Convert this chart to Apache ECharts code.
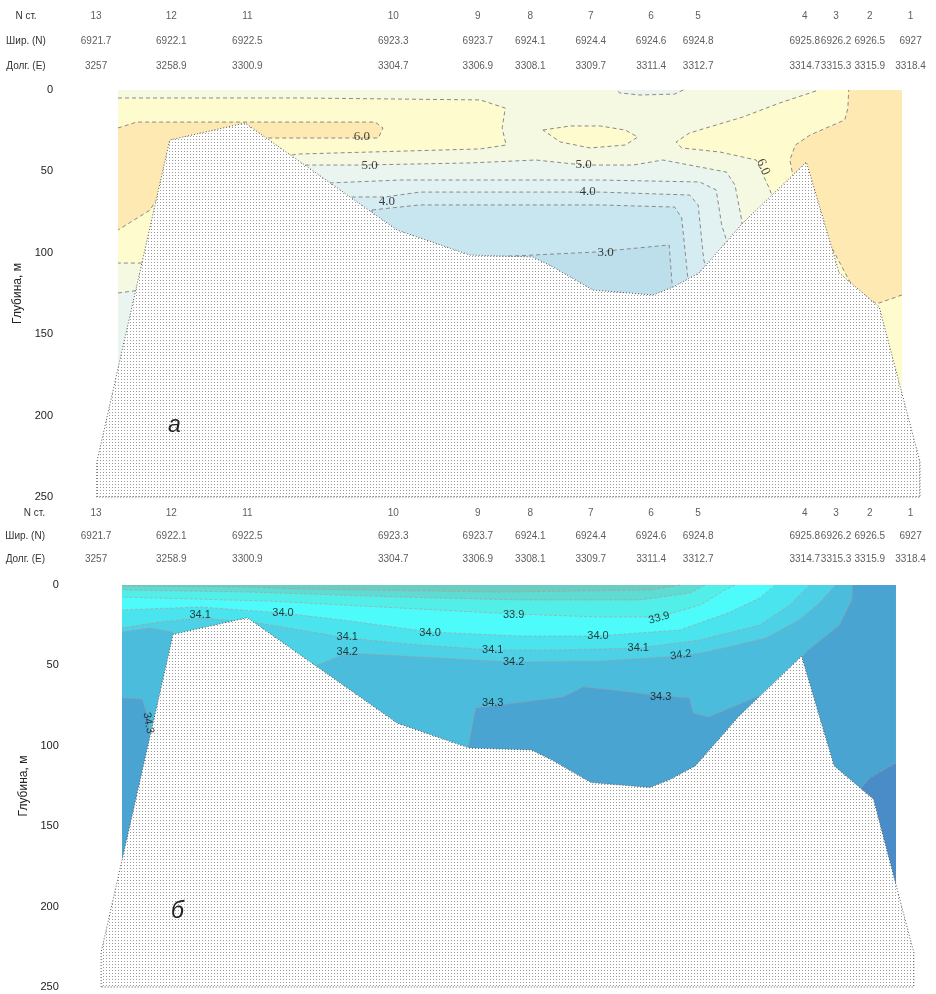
<!DOCTYPE html>
<html lang="ru">
<head>
<meta charset="utf-8">
<title>Разрез: температура и солёность</title>
<script src="https://cdn.jsdelivr.net/npm/echarts/dist/echarts.min.js"></script>
</head>
<body style="margin:0;background:#fff">
<div id="chart" style="width:936px;height:994px"></div>
<script>
// шапка разреза: станции, широта, долгота
var stationNo = ['13', '12', '11', '10', '9', '8', '7', '6', '5', '4', '3', '2', '1'];
var stationLat = ['6921.7', '6922.1', '6922.5', '6923.3', '6923.7', '6924.1', '6924.4', '6924.6', '6924.8', '6925.8', '6926.2', '6926.5', '6927'];
var stationLon = ['3257', '3258.9', '3300.9', '3304.7', '3306.9', '3308.1', '3309.7', '3311.4', '3312.7', '3314.7', '3315.3', '3315.9', '3318.4'];
// расстояние вдоль разреза, усл. ед. (0..100 - область съёмки)
var stationDist = [-2.8, 6.8, 16.5, 35.1, 45.9, 52.6, 60.3, 68.0, 74.0, 87.6, 91.6, 95.9, 101.1];
var headerRows = ['N ст.', 'Шир. (N)', 'Долг. (E)'];

// рельеф дна [расстояние, глубина]
var bottomProfile = [
  [-2.7, 250], [-2.7, 228.5], [6.6, 30.7], [16.2, 20.3], [35.6, 86.0], [44.9, 101.4],
  [52.9, 102.6], [55.5, 108.7], [60.6, 122.9], [68.2, 125.9], [70.8, 121.0], [74.1, 112.4],
  [79.7, 81.7], [87.8, 44.2], [92.0, 112.4], [97.1, 133.3], [102.3, 228.5], [102.3, 250]
];

var fullSection = [[0, 0], [100, 0], [100, 250], [0, 250]];

// температура: области между изотермами
var tempRegions = [
  { band: '5-6', pts: fullSection },
  { band: '6-6.5', pts: [[0, 4.9], [23.2, 4.9], [46.2, 6.1], [49.4, 11.1], [49.0, 23.3], [49.5, 33.8], [46.2, 36.2], [23.2, 39.3], [16.8, 43.0], [5.4, 92.1], [3.1, 106.3], [0, 106.3]] },
  { band: '>6.5', pts: [[0, 23.3], [2.4, 19.7], [32.8, 19.7], [33.8, 23.3], [33.2, 29.5], [19.0, 29.5], [13.0, 55.3], [4.7, 68.8], [4.1, 73.7], [0, 86.0]] },
  { band: '4.5-5', pts: [[0, 124.7], [2.8, 122.9], [5.4, 129.0], [5.4, 190.4], [0, 190.4]] },
  { band: '4.5-5', pts: [[23.9, 46.1], [30.9, 46.1], [44.9, 44.8], [53.3, 43.0], [59.4, 46.1], [65.7, 46.1], [69.5, 43.0], [77.6, 50.4], [78.7, 58.4], [79.6, 81.1], [79.6, 129.0], [27.0, 129.0]] },
  { band: '4-4.5', pts: [[27.0, 57.1], [36.0, 55.3], [44.9, 55.3], [61.5, 55.3], [74.2, 56.5], [76.3, 61.4], [77.0, 82.9], [77.6, 92.1], [77.6, 129.0], [29.0, 129.0]] },
  { band: '3.5-4', pts: [[29.8, 65.7], [34.1, 65.7], [38.5, 62.7], [61.5, 62.7], [72.9, 64.5], [74.0, 70.6], [74.7, 103.8], [74.9, 108.1], [74.9, 129.0], [30.9, 129.0]] },
  { band: '3-3.5', pts: [[32.4, 73.7], [38.5, 70.6], [61.5, 70.6], [71.0, 71.9], [71.9, 78.6], [72.7, 116.1], [72.7, 129.0], [33.7, 129.0]] },
  { band: '<3', pts: [[44.4, 103.2], [52.9, 101.4], [61.0, 99.5], [70.3, 95.2], [70.7, 121.0], [70.7, 129.0], [44.4, 129.0]] },
  { band: '6-6.5', pts: [[54.2, 24.6], [57.7, 22.1], [61.5, 22.1], [64.7, 24.6], [66.3, 28.9], [64.7, 33.8], [60.2, 35.6], [56.4, 31.9]] },
  { band: '4.5-5', pts: [[63.6, 0], [72.1, 0], [71.0, 2.5], [66.6, 3.1], [64.0, 1.8]] },
  { band: '6-6.5', pts: [[89.4, 0], [100, 0], [100, 190.4], [92.1, 190.4], [85.7, 86.0], [83.4, 64.5], [83.0, 59.6], [81.4, 43.0], [76.8, 38.1], [71.9, 35.6], [71.2, 31.9], [72.9, 26.4], [79.7, 16.6], [84.4, 8.0]] },
  { band: '>6.5', pts: [[93.2, 0], [100, 0], [100, 125.9], [97.1, 130.8], [94.6, 129.0], [87.8, 67.6], [86.1, 52.8], [85.7, 43.0], [86.4, 33.8], [88.3, 27.6], [92.7, 18.4], [93.1, 11.1]] }
];
// подписи изотерм [расстояние, глубина, текст, направление]
var tempLabels = [
  [31.1, 28.9, '6.0', 0], [32.1, 46.7, '5.0', 0], [34.3, 68.8, '4.0', 0],
  [59.4, 46.1, '5.0', 0], [59.9, 62.7, '4.0', 0], [62.2, 100.1, '3.0', 0],
  [82.3, 47.3, '6.0', -65]
];

// солёность: области между изохалинами
var salRegions = [
  { band: '34.3-34.4', pts: fullSection },
  { band: '>34.4', pts: [[100, 110.7], [96.6, 120.0], [95.3, 127.5], [95.3, 195.9], [100, 195.9]] },
  { band: '34.2-34.3', pts: [[0, 0], [94.4, 0], [94.3, 9.3], [92.7, 24.9], [89.5, 37.3], [88.4, 41.7], [83.7, 71.5], [83.2, 67.2], [75.8, 82.1], [73.8, 79.6], [73.3, 70.3], [68.6, 68.4], [63.4, 65.3], [59.6, 63.4], [57.0, 69.7], [45.7, 76.5], [44.7, 101.4], [23.0, 71.5], [4.9, 96.4], [3.5, 93.3], [3.4, 82.7], [2.6, 70.9], [0, 70.3]] },
  { band: '34.1-34.2', pts: [[0, 0], [92.2, 0], [90.1, 11.2], [87.5, 21.8], [83.2, 33.0], [75.5, 41.7], [72.2, 44.2], [61.8, 47.3], [50.6, 47.9], [38.5, 44.8], [29.1, 42.3], [25.3, 49.8], [16.5, 46.6], [7.5, 37.3], [6.5, 29.2], [3.6, 26.7], [0, 29.2]] },
  { band: '34.0-34.1', pts: [[0, 0], [88.9, 0], [88.2, 3.1], [86.3, 12.4], [82.4, 24.9], [74.7, 34.2], [66.7, 39.2], [56.6, 40.4], [47.9, 40.4], [38.5, 37.3], [29.1, 33.0], [23.0, 28.0], [16.8, 23.0], [10.1, 20.5], [4.9, 23.0], [0, 26.7]] },
  { band: '33.9-34.0', pts: [[0, 0], [84.4, 0], [82.4, 8.1], [78.6, 16.8], [72.1, 28.0], [61.5, 31.7], [51.4, 31.7], [39.8, 29.2], [29.5, 22.4], [20.8, 17.4], [10.1, 13.7], [0, 15.5]] },
  { band: '33.8-33.9', pts: [[0, 0], [79.2, 0], [77.9, 3.1], [74.7, 12.4], [69.4, 19.9], [61.8, 19.9], [50.6, 18.0], [35.9, 14.3], [19.1, 10.0], [0, 7.5]] },
  { band: '33.7-33.8', pts: [[0, 0], [75.3, 0], [73.4, 5.0], [66.9, 9.3], [51.4, 9.3], [35.9, 7.5], [16.5, 4.4], [0, 3.1]] },
  { band: '<33.7', pts: [[0, 0], [72.1, 0], [68.2, 3.1], [48.8, 4.4], [23.0, 2.5], [16.5, 1.2], [0, 0.6]] }
];
var salLabels = [
  [10.1, 18.7, '34.1', 0], [20.8, 17.4, '34.0', 0], [29.1, 32.3, '34.1', 0],
  [29.1, 41.7, '34.2', 0], [39.8, 29.9, '34.0', 0], [50.6, 18.7, '33.9', 0],
  [47.9, 40.4, '34.1', 0], [50.6, 47.9, '34.2', 0], [47.9, 73.4, '34.3', 0],
  [61.5, 31.7, '34.0', 0], [69.4, 20.5, '33.9', 15], [66.7, 39.2, '34.1', 0],
  [72.2, 43.5, '34.2', 8], [69.6, 69.7, '34.3', 0], [3.4, 85.8, '34.3', -80]
];

var tempPalette = {
  '>6.5': '#fde9b1', '6-6.5': '#fefbcf', '5-6': '#f5f9e1', '4.5-5': '#ebf5ef',
  '4-4.5': '#e2f2f3', '3.5-4': '#d5ecf2', '3-3.5': '#c8e6ef', '<3': '#bcdfeb'
};
var salPalette = {
  '>34.4': '#4a8cc8', '34.3-34.4': '#4aa4d2', '34.2-34.3': '#4bbcdc', '34.1-34.2': '#4cd1e6',
  '34.0-34.1': '#4ae4ee', '33.9-34.0': '#4dfbfa', '33.8-33.9': '#52efe9', '33.7-33.8': '#5cdcd2',
  '<33.7': '#6acdc2'
};

// точечная заливка грунта
var dots = document.createElement('canvas');
dots.width = 3; dots.height = 3;
var dctx = dots.getContext('2d');
dctx.fillStyle = '#ffffff'; dctx.fillRect(0, 0, 3, 3);
dctx.fillStyle = '#9a9a9a'; dctx.fillRect(1, 1, 1, 1);

function onFrame(a, b) {
  return (a[0] === b[0] && (a[0] === 0 || a[0] === 100)) ||
         (a[1] === b[1] && (a[1] === 0 || a[1] === 250));
}

function areaSeries(axis, pts, fill, stroke, dash) {
  return {
    type: 'custom', xAxisIndex: axis, yAxisIndex: axis, z: 2, silent: true,
    data: pts,
    renderItem: function (params, api) {
      if (params.dataIndex !== 0) return null;
      var p = pts.map(function (q) { return api.coord(q); });
      var kids = [{ type: 'polygon', shape: { points: p }, style: { fill: fill } }];
      // изолинии - только внутренние рёбра
      var run = [];
      for (var i = 0; i < pts.length; i++) {
        var j = (i + 1) % pts.length;
        if (!onFrame(pts[i], pts[j])) {
          if (!run.length) run.push(p[i]);
          run.push(p[j]);
        } else if (run.length) {
          kids.push({ type: 'polyline', shape: { points: run }, style: { stroke: stroke, lineWidth: 1, lineDash: dash, fill: null } });
          run = [];
        }
      }
      if (run.length) kids.push({ type: 'polyline', shape: { points: run }, style: { stroke: stroke, lineWidth: 1, lineDash: dash, fill: null } });
      return { type: 'group', children: kids };
    }
  };
}

function groundSeries(axis) {
  return {
    type: 'custom', xAxisIndex: axis, yAxisIndex: axis, z: 3, silent: true,
    data: bottomProfile,
    renderItem: function (params, api) {
      if (params.dataIndex !== 0) return null;
      var p = bottomProfile.map(function (q) { return api.coord(q); });
      return {
        type: 'polygon', shape: { points: p },
        style: { fill: { image: dots, repeat: 'repeat' }, stroke: '#555', lineWidth: 1, lineDash: [1, 2] }
      };
    }
  };
}

function labelSeries(axis, list, font, size) {
  return {
    type: 'scatter', xAxisIndex: axis, yAxisIndex: axis, z: 5, silent: true,
    symbolSize: 0, itemStyle: { color: 'transparent' },
    data: list.map(function (l) {
      return { name: l[2], value: [l[0], l[1]], label: { rotate: l[3] } };
    }),
    label: { show: true, position: 'inside', formatter: '{b}', color: '#111', fontSize: size, fontFamily: font }
  };
}

function headerSeries(axis) {
  var data = [];
  stationDist.forEach(function (d, i) {
    data.push({ name: stationNo[i], value: [d, 0] });
    data.push({ name: stationLat[i], value: [d, 1] });
    data.push({ name: stationLon[i], value: [d, 2] });
  });
  return {
    type: 'scatter', xAxisIndex: axis, yAxisIndex: axis, silent: true,
    symbolSize: 0, itemStyle: { color: 'transparent' }, data: data,
    label: { show: true, position: 'inside', formatter: '{b}', color: '#333', fontSize: 10, fontFamily: 'Liberation Sans' }
  };
}

var hidden = { show: false };
function sectionX(i) { return { type: 'value', gridIndex: i, min: -3, max: 103, show: false }; }
function depthY(i, margin) {
  return {
    type: 'value', gridIndex: i, inverse: true, min: 0, max: 250, interval: 50,
    axisLine: hidden, axisTick: hidden, splitLine: hidden,
    axisLabel: { margin: margin, fontSize: 11, color: '#222', fontFamily: 'Liberation Sans' },
    name: 'Глубина, м', nameLocation: 'middle', nameRotate: 90, nameGap: 66,
    nameTextStyle: { fontSize: 12, color: '#222', fontFamily: 'Liberation Sans' }
  };
}
function headerY(i, align, margin) {
  return {
    type: 'category', gridIndex: i, inverse: true, data: headerRows,
    axisLine: hidden, axisTick: hidden, splitLine: hidden,
    axisLabel: { align: align, margin: margin, fontSize: 10, color: '#333', fontFamily: 'Liberation Sans' }
  };
}

var series = [];
series.push(headerSeries(0));
tempRegions.forEach(function (r) { series.push(areaSeries(1, r.pts, tempPalette[r.band], '#8a8a8a', [4, 3])); });
series.push(groundSeries(1));
series.push(labelSeries(1, tempLabels, 'Liberation Serif', 13));
series.push(headerSeries(2));
salRegions.forEach(function (r) { series.push(areaSeries(3, r.pts, salPalette[r.band], 'rgba(200,140,140,0.6)', [3, 2])); });
series.push(groundSeries(3));
series.push(labelSeries(3, salLabels, 'Liberation Sans', 11));

var chart = echarts.init(document.getElementById('chart'), null, { renderer: 'canvas' });
chart.setOption({
  backgroundColor: '#ffffff',
  animation: false,
  title: [
    { text: 'а', left: 168, top: 414, padding: 0, textStyle: { fontSize: 23, fontStyle: 'italic', fontWeight: 'normal', color: '#222', fontFamily: 'Liberation Sans' } },
    { text: 'б', left: 171, top: 900, padding: 0, textStyle: { fontSize: 23, fontStyle: 'italic', fontWeight: 'normal', color: '#222', fontFamily: 'Liberation Sans' } }
  ],
  grid: [
    { left: 94.5, width: 831, top: 3.5, height: 75, outerBoundsMode: 'none' },
    { left: 94.5, width: 831, top: 90, height: 407, outerBoundsMode: 'none' },
    { left: 94.5, width: 831, top: 501.5, height: 69, outerBoundsMode: 'none' },
    { left: 98.8, width: 820.4, top: 585, height: 402, outerBoundsMode: 'none' }
  ],
  xAxis: [sectionX(0), sectionX(1), sectionX(2), sectionX(3)],
  yAxis: [headerY(0, 'center', 68.5), depthY(1, 41.5), headerY(2, 'right', 49.5), depthY(3, 40)],
  series: series
});
</script>
</body>
</html>
